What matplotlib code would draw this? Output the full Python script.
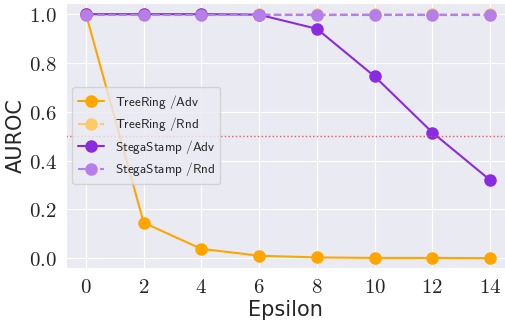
import numpy as np
import matplotlib.pyplot as plt
import seaborn as sns

sns.set_style("darkgrid")
plt.rcParams['mathtext.fontset'] = 'cm'

epsilon = [0, 2, 4, 6, 8, 10, 12, 14]
treering_adv = [1.0, 0.145, 0.038, 0.010, 0.003, 0.001, 0.001, 0.0]
treering_rnd = [1.0, 1.0, 1.0, 1.0, 1.0, 1.0, 1.0, 1.0]
stega_adv = [1.0, 1.0, 1.0, 0.998, 0.94, 0.745, 0.515, 0.32]
stega_rnd = [0.998, 0.998, 0.998, 0.998, 0.998, 0.998, 0.998, 0.998]

fig, ax = plt.subplots(figsize=(5.06, 3.22), dpi=100)

ax.plot(epsilon, treering_adv, '-o', color='#FFA500', lw=1.5, ms=8,
        label=r'$\mathsf{TreeRing\ /Adv}$')
ax.plot(epsilon, treering_rnd, '--o', color='#FFC966', lw=1.5, ms=8,
        label=r'$\mathsf{TreeRing\ /Rnd}$')
ax.plot(epsilon, stega_adv, '-o', color='#8A2BE2', lw=1.5, ms=8,
        label=r'$\mathsf{StegaStamp\ /Adv}$')
ax.plot(epsilon, stega_rnd, '--o', color='#B57EE8', lw=1.5, ms=8,
        label=r'$\mathsf{StegaStamp\ /Rnd}$')

# random-guess baseline
ax.axhline(0.5, color='#D9534F', ls=':', lw=1, alpha=0.9)

ax.set_xlim(-0.7, 14.55)
ax.set_ylim(-0.04, 1.045)
ax.set_xticks(epsilon)
ax.set_xticklabels([f'${v}$' for v in epsilon], fontsize=15)
yt = [0.0, 0.2, 0.4, 0.6, 0.8, 1.0]
ax.set_yticks(yt)
ax.set_yticklabels([f'${v:.1f}$' for v in yt], fontsize=15)
ax.tick_params(axis='both', pad=3)

ax.set_xlabel('Epsilon', fontsize=15, labelpad=2)
ax.set_ylabel('AUROC', fontsize=15, labelpad=2)

ax.legend(loc='center left', bbox_to_anchor=(0.0, 0.5), fontsize=9.5,
          handlelength=2.0, labelspacing=0.35, borderpad=0.4)

plt.subplots_adjust(left=0.13, right=1.0, bottom=0.168, top=0.99)
plt.savefig('out.png', dpi=100)
